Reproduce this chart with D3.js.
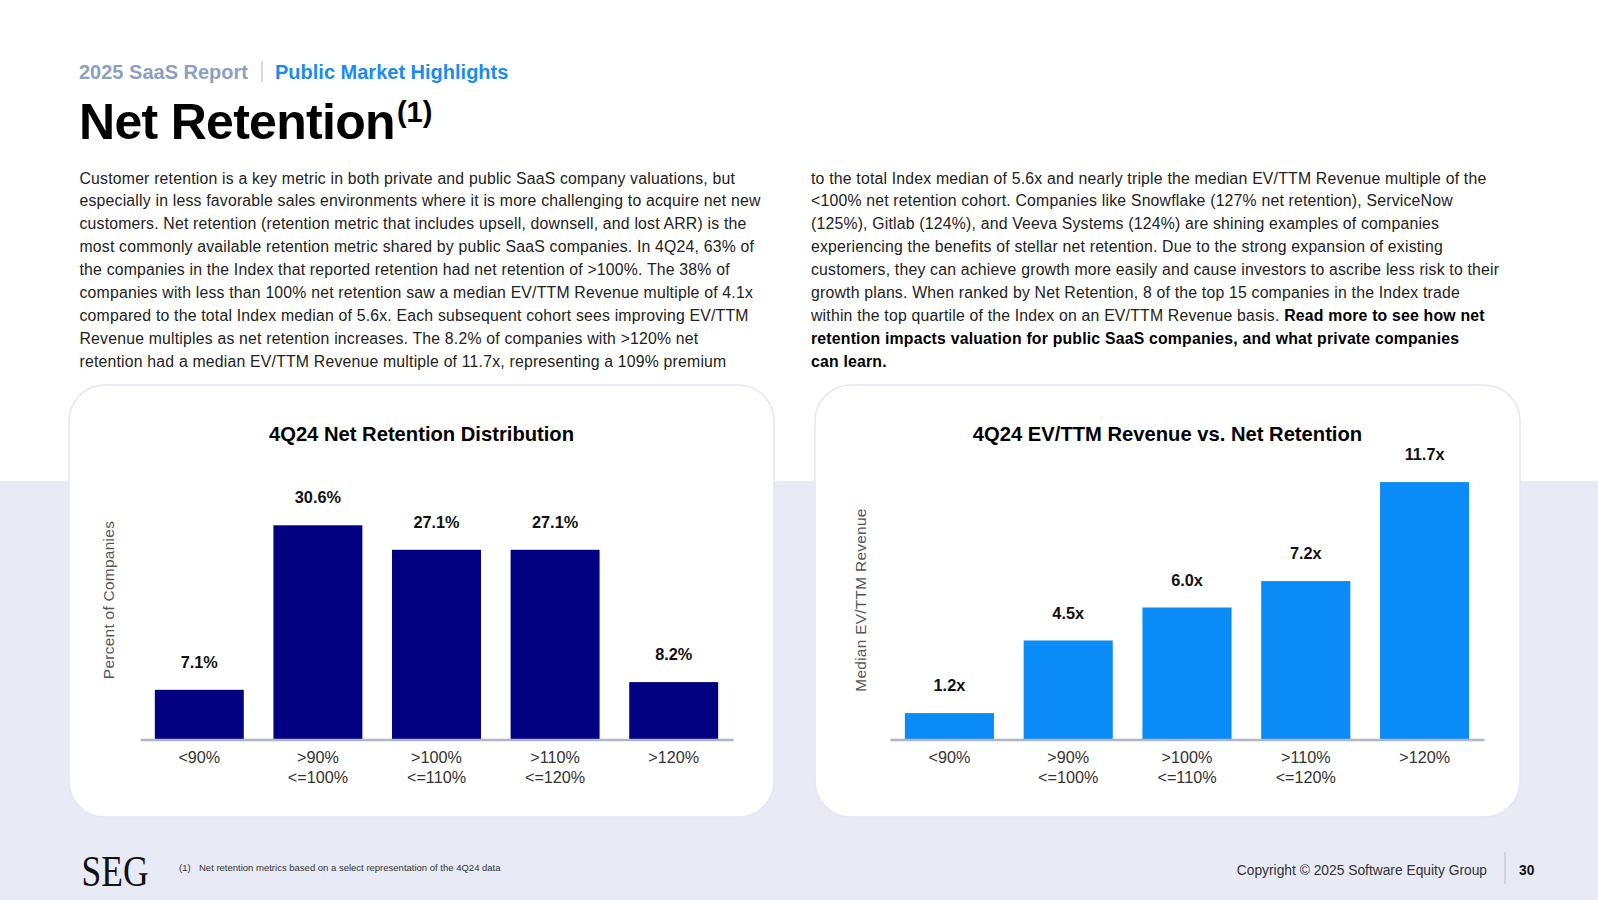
<!DOCTYPE html>
<html>
<head>
<meta charset="utf-8">
<script src="https://cdn.jsdelivr.net/npm/d3@7"></script>
<style>
  body { margin: 0; background: #fff; }
</style>
</head>
<body>
<div id="wrapper"></div>
<script>
// chart data
const categories = ['<90%', '>90%\n<=100%', '>100%\n<=110%', '>110%\n<=120%', '>120%'];
const distributionValues = [7.1, 30.6, 27.1, 27.1, 8.2];
const multipleValues = [1.2, 4.5, 6.0, 7.2, 11.7];

// page copy
const leftParagraph = [
  'Customer retention is a key metric in both private and public SaaS company valuations, but',
  'especially in less favorable sales environments where it is more challenging to acquire net new',
  'customers. Net retention (retention metric that includes upsell, downsell, and lost ARR) is the',
  'most commonly available retention metric shared by public SaaS companies. In 4Q24, 63% of',
  'the companies in the Index that reported retention had net retention of >100%. The 38% of',
  'companies with less than 100% net retention saw a median EV/TTM Revenue multiple of 4.1x',
  'compared to the total Index median of 5.6x. Each subsequent cohort sees improving EV/TTM',
  'Revenue multiples as net retention increases. The 8.2% of companies with >120% net',
  'retention had a median EV/TTM Revenue multiple of 11.7x, representing a 109% premium'
];
const rightParagraph = [
  ['to the total Index median of 5.6x and nearly triple the median EV/TTM Revenue multiple of the', ''],
  ['<100% net retention cohort. Companies like Snowflake (127% net retention), ServiceNow', ''],
  ['(125%), Gitlab (124%), and Veeva Systems (124%) are shining examples of companies', ''],
  ['experiencing the benefits of stellar net retention. Due to the strong expansion of existing', ''],
  ['customers, they can achieve growth more easily and cause investors to ascribe less risk to their', ''],
  ['growth plans. When ranked by Net Retention, 8 of the top 15 companies in the Index trade', ''],
  ['within the top quartile of the Index on an EV/TTM Revenue basis. ', 'Read more to see how net'],
  ['', 'retention impacts valuation for public SaaS companies, and what private companies'],
  ['', 'can learn.']
];

const width = 1598;
const height = 900;
const sans = '"Liberation Sans", Arial, sans-serif';

const svg = d3.select('#wrapper')
  .append('svg')
    .attr('width', width)
    .attr('height', height)
    .style('font-family', sans);

// background bands
svg.append('rect')
    .attr('width', width).attr('height', height).attr('fill', '#ffffff');
svg.append('rect')
    .attr('y', 481).attr('width', width).attr('height', height - 481)
    .attr('fill', '#e8eaf5');

// header
svg.append('text')
    .attr('x', 79).attr('y', 78.5)
    .attr('font-size', 20).attr('font-weight', 'bold')
    .attr('fill', '#8d9fc2')
    .text('2025 SaaS Report');
svg.append('line')
    .attr('x1', 262).attr('x2', 262).attr('y1', 61).attr('y2', 82)
    .attr('stroke', '#c5cbd8').attr('stroke-width', 1.5);
svg.append('text')
    .attr('x', 275).attr('y', 78.5)
    .attr('font-size', 20).attr('font-weight', 'bold')
    .attr('fill', '#1a8cf0')
    .text('Public Market Highlights');

const title = svg.append('text')
    .attr('x', 79).attr('y', 138.5)
    .attr('font-size', 50).attr('font-weight', 'bold')
    .attr('letter-spacing', -0.7)
    .attr('fill', '#000');
title.append('tspan').text('Net Retention');
title.append('tspan')
    .attr('font-size', 29).attr('dy', -17).attr('dx', 2).attr('letter-spacing', 0)
    .text('(1)');

// paragraphs
const lineTop = 183.5;
const lineStep = 22.93;
const bodySize = 15.8;
const bodySpacing = 0.2;

svg.append('g')
  .selectAll('text')
  .data(leftParagraph)
  .join('text')
    .attr('x', 79.5)
    .attr('y', (d, i) => lineTop + i * lineStep)
    .attr('font-size', bodySize)
    .attr('letter-spacing', bodySpacing)
    .attr('fill', '#222')
    .text(d => d);

const rightText = svg.append('g')
  .selectAll('text')
  .data(rightParagraph)
  .join('text')
    .attr('x', 811)
    .attr('y', (d, i) => lineTop + i * lineStep)
    .attr('font-size', bodySize)
    .attr('letter-spacing', bodySpacing)
    .attr('fill', '#222');
rightText.append('tspan').text(d => d[0]);
rightText.append('tspan')
    .attr('font-weight', 'bold')
    .attr('fill', '#000')
    .text(d => d[1]);

// cards
const cards = [
  { x: 69, title: '4Q24 Net Retention Distribution', yLabel: 'Percent of Companies',
    values: distributionValues, color: '#010080', fmt: d => d.toFixed(1) + '%',
    axisX: [140, 733], yLabelX: 110, pxPerUnit: 7.0 },
  { x: 815, title: '4Q24 EV/TTM Revenue vs. Net Retention', yLabel: 'Median EV/TTM Revenue',
    values: multipleValues, color: '#0a8bf5', fmt: d => d.toFixed(1) + 'x',
    axisX: [890, 1484], yLabelX: 862, pxPerUnit: 22.0 }
];

const cardY = 385;
const cardW = 705;
const cardH = 432;
const baseY = 739.5;

cards.forEach(card => {
  svg.append('rect')
      .attr('x', card.x).attr('y', cardY)
      .attr('width', cardW).attr('height', cardH)
      .attr('rx', 36).attr('ry', 36)
      .attr('fill', '#ffffff')
      .attr('stroke', '#e4e7ef').attr('stroke-width', 1.5);

  svg.append('text')
      .attr('x', card.x + cardW / 2).attr('y', 440.5)
      .attr('text-anchor', 'middle')
      .attr('font-size', 20.2).attr('font-weight', 'bold')
      .attr('fill', '#000')
      .text(card.title);

  svg.append('text')
      .attr('transform', `translate(${card.yLabelX},600) rotate(-90)`)
      .attr('text-anchor', 'middle')
      .attr('dominant-baseline', 'middle')
      .attr('font-size', 15.4)
      .attr('letter-spacing', 0.3)
      .attr('fill', '#555')
      .text(card.yLabel);

  const xScale = d3.scaleBand()
      .domain(categories)
      .range(card.axisX)
      .paddingInner(0.25)
      .paddingOuter(0.125);

  const maxVal = d3.max(card.values) * 1.1;
  const yScale = d3.scaleLinear()
      .domain([0, maxVal])
      .range([baseY, baseY - maxVal * card.pxPerUnit]);

  const rows = categories.map((c, i) => ({ cat: c, value: card.values[i] }));

  const bounds = svg.append('g');

  bounds.selectAll('rect.bar')
    .data(rows)
    .join('rect')
      .attr('class', 'bar')
      .attr('x', d => xScale(d.cat))
      .attr('width', xScale.bandwidth())
      .attr('y', d => yScale(d.value))
      .attr('height', d => baseY - yScale(d.value))
      .attr('fill', card.color);

  bounds.selectAll('text.value')
    .data(rows)
    .join('text')
      .attr('class', 'value')
      .attr('x', d => xScale(d.cat) + xScale.bandwidth() / 2)
      .attr('y', d => yScale(d.value) - 22)
      .attr('text-anchor', 'middle')
      .attr('font-size', 16.3).attr('font-weight', 'bold')
      .attr('fill', '#111')
      .text(d => card.fmt(d.value));

  const xAxisGenerator = d3.axisBottom(xScale)
      .tickSize(0)
      .tickSizeOuter(0)
      .tickPadding(0);

  const xAxis = bounds.append('g')
      .attr('transform', `translate(0,${baseY})`)
      .call(xAxisGenerator);

  xAxis.select('.domain')
      .attr('stroke', '#b0b5c8')
      .attr('stroke-width', 2.5);

  xAxis.selectAll('.tick text')
      .attr('font-size', 16.2)
      .attr('fill', '#333')
      .attr('font-family', sans)
      .attr('dy', null)
      .attr('y', 0)
      .each(function(d) {
        const t = d3.select(this);
        t.text(null);
        d.split('\n').forEach((part, j) => {
          t.append('tspan')
              .attr('x', 0)
              .attr('y', 23 + j * 20)
              .text(part);
        });
      });
});

// footer
svg.append('text')
    .attr('x', 81.5).attr('y', 886)
    .style('font-family', '"Liberation Serif", "DejaVu Serif", serif')
    .attr('font-size', 44)
    .attr('textLength', 67).attr('lengthAdjust', 'spacingAndGlyphs')
    .attr('fill', '#111')
    .text('SEG');

svg.append('text')
    .attr('x', 179).attr('y', 871)
    .attr('font-size', 9.5)
    .attr('fill', '#333')
    .text('(1)');
svg.append('text')
    .attr('x', 199).attr('y', 871)
    .attr('font-size', 9.5)
    .attr('fill', '#333')
    .text('Net retention metrics based on a select representation of the 4Q24 data');

svg.append('text')
    .attr('x', 1487).attr('y', 875)
    .attr('text-anchor', 'end')
    .attr('font-size', 13.8)
    .attr('fill', '#333')
    .text('Copyright © 2025 Software Equity Group');
svg.append('line')
    .attr('x1', 1505).attr('x2', 1505).attr('y1', 852).attr('y2', 884)
    .attr('stroke', '#c8ccd8').attr('stroke-width', 1.5);
svg.append('text')
    .attr('x', 1519).attr('y', 875)
    .attr('font-size', 13.8).attr('font-weight', 'bold')
    .attr('fill', '#111')
    .text('30');
</script>
</body>
</html>
